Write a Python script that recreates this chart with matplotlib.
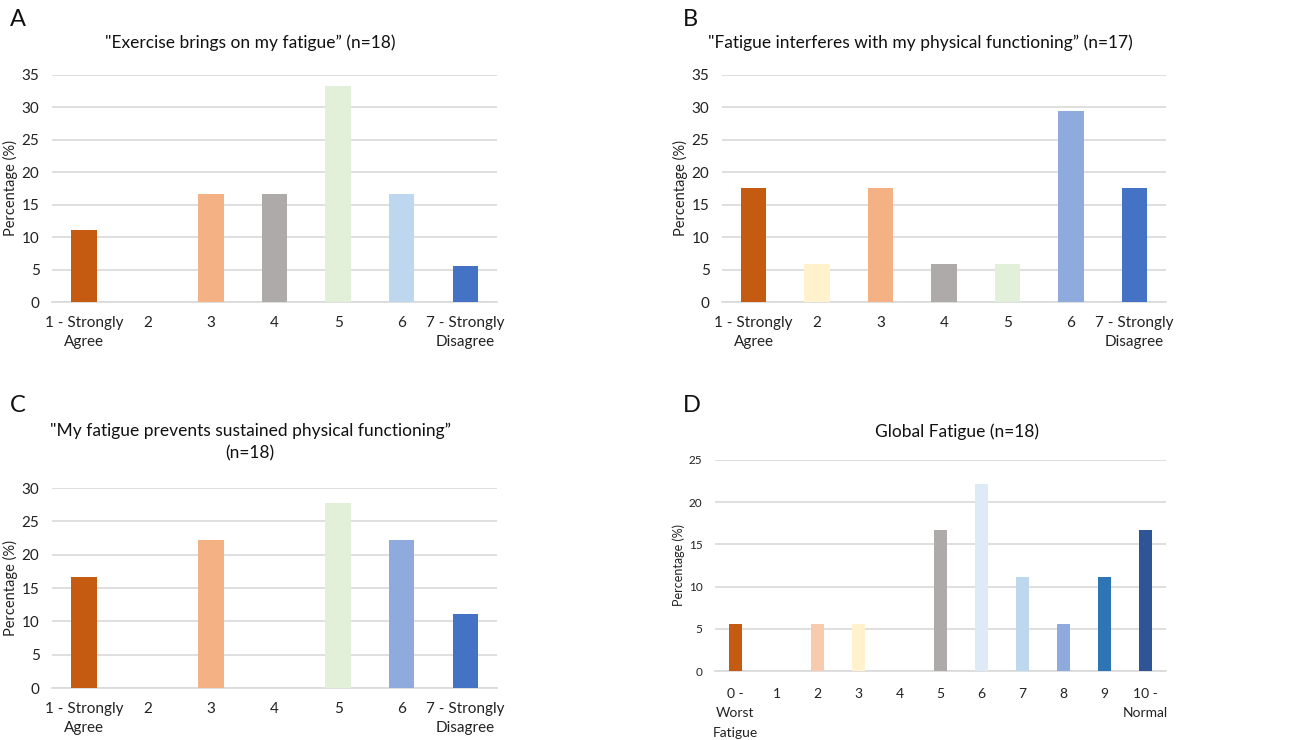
import matplotlib
matplotlib.use("Agg")
import matplotlib.pyplot as plt

plt.rcParams['font.family'] = ['Lato', 'DejaVu Sans']

W, H = 1301, 740

cats7 = ["1 - Strongly\nAgree", "2", "3", "4", "5", "6", "7 - Strongly\nDisagree"]
cats11 = ["0 -\nWorst\nFatigue", "1", "2", "3", "4", "5", "6", "7", "8", "9", "10 -\nNormal"]

vals_a = [11.1, 0, 16.7, 16.7, 33.3, 16.7, 5.6]
vals_b = [17.6, 5.9, 17.6, 5.9, 5.9, 29.4, 17.6]
vals_c = [16.7, 0, 22.2, 0, 27.8, 22.2, 11.1]
vals_d = [5.6, 0, 5.6, 5.6, 0, 16.7, 22.2, 11.1, 5.6, 11.1, 16.7]

cols_a = ["#C55A11", "#FFF2CC", "#F4B183", "#AEAAAA", "#E2F0D9", "#BDD7EE", "#4472C4"]
cols_b = ["#C55A11", "#FFF2CC", "#F4B183", "#AEAAAA", "#E2F0D9", "#8FAADC", "#4472C4"]
cols_c = ["#C55A11", "#FFF2CC", "#F4B183", "#AEAAAA", "#E2F0D9", "#8FAADC", "#4472C4"]
cols_d = ["#C55A11", "#F8CBAD", "#F8CBAD", "#FFF2CC", "#AEAAAA", "#AEAAAA", "#DEEBF7",
          "#BDD7EE", "#8FAADC", "#2E75B6", "#2F5597"]

fig = plt.figure(figsize=(W / 100, H / 100), dpi=100)


def px_axes(x0, x1, y0, y1):
    return fig.add_axes([x0 / W, 1 - y1 / H, (x1 - x0) / W, (y1 - y0) / H])


def draw(ax, cats, vals, cols, ymax, step, width, tick_fs, lab_fs, ylab_fs, ls, lpad):
    x = list(range(len(cats)))
    ax.bar(x, vals, width=width, color=cols, zorder=3)
    ax.set_xlim(-0.5, len(cats) - 0.5)
    ax.set_ylim(0, ymax)
    ax.set_yticks(list(range(0, ymax + 1, step)))
    ax.set_xticks(x)
    ax.set_xticklabels(cats, fontsize=lab_fs, color="#222222", linespacing=ls)
    ax.tick_params(axis='y', labelsize=tick_fs, colors="#222222", length=0, pad=9)
    ax.tick_params(axis='x', length=0, pad=lpad)
    ax.grid(axis='y', color="#D9D9D9", linewidth=1.2, zorder=0)
    for s in ["top", "right", "left"]:
        ax.spines[s].set_visible(False)
    ax.spines["bottom"].set_color("#D9D9D9")
    ax.spines["bottom"].set_linewidth(1.2)
    ax.set_ylabel("Percentage (%)", fontsize=ylab_fs, color="#222222", labelpad=3)


ax_a = px_axes(52, 497, 75, 302)
draw(ax_a, cats7, vals_a, cols_a, 35, 5, 0.4, 11, 11, 10.5, 1.5, 10)
ax_b = px_axes(722, 1166, 75, 302)
draw(ax_b, cats7, vals_b, cols_b, 35, 5, 0.4, 11, 11, 10.5, 1.5, 10)
ax_c = px_axes(52, 497, 488, 688)
draw(ax_c, cats7, vals_c, cols_c, 30, 5, 0.4, 11, 11, 10.5, 1.5, 10)
ax_d = px_axes(715, 1166, 460, 671)
draw(ax_d, cats11, vals_d, cols_d, 25, 5, 0.32, 8.5, 10, 9, 1.75, 12)


def ftxt(x, y, s, fs, **kw):
    fig.text(x / W, 1 - y / H, s, fontsize=fs, color="#111111", **kw)


ftxt(250, 43, "\"Exercise brings on my fatigue\u201d (n=18)", 12.5, ha="center", va="center")
ftxt(920, 43, "\"Fatigue interferes with my physical functioning\u201d (n=17)", 12.5, ha="center", va="center")
ftxt(250, 442, "\"My fatigue prevents sustained physical functioning\u201d\n(n=18)", 12.5,
     ha="center", va="center", linespacing=1.5)
ftxt(957, 432, "Global Fatigue (n=18)", 12.5, ha="center", va="center")

ftxt(10, 20, "A", 17, ha="left", va="center")
ftxt(683, 20, "B", 17, ha="left", va="center")
ftxt(10, 406, "C", 17, ha="left", va="center")
ftxt(683, 406, "D", 17, ha="left", va="center")

fig.savefig("out.png", dpi=100, facecolor="white")
